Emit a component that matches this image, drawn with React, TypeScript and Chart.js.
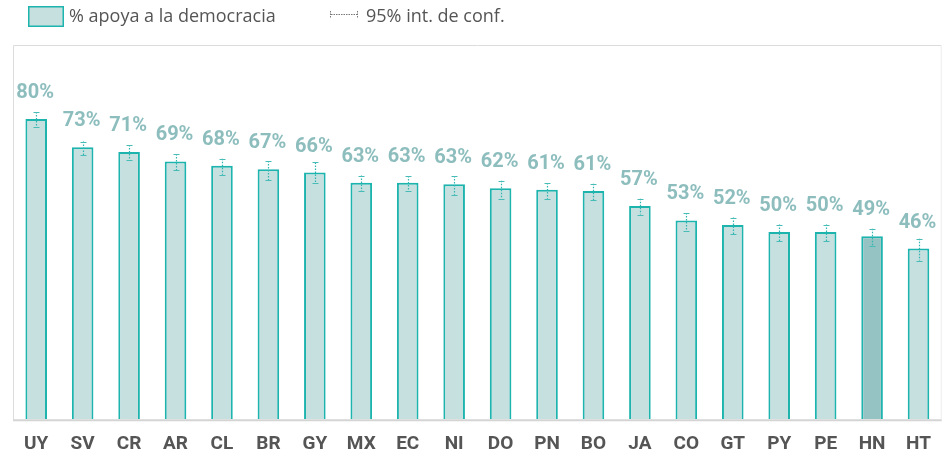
import React, { useEffect, useRef } from "react";
import { Chart, registerables } from "chart.js";

Chart.register(...registerables);

const categories = ["UY", "SV", "CR", "AR", "CL", "BR", "GY", "MX", "EC", "NI", "DO", "PN", "BO", "JA", "CO", "GT", "PY", "PE", "HN", "HT"];
const support = [80.2, 72.7, 71.4, 68.9, 67.7, 66.8, 65.9, 63.2, 63.2, 62.8, 61.7, 61.3, 61.0, 57.0, 53.1, 51.9, 50.0, 50.0, 48.9, 45.6];
const labels = ["80%", "73%", "71%", "69%", "68%", "67%", "66%", "63%", "63%", "63%", "62%", "61%", "61%", "57%", "53%", "52%", "50%", "50%", "49%", "46%"];
const ciLow = [78.0, 70.5, 69.3, 66.5, 65.3, 63.9, 63.2, 60.9, 60.9, 60.0, 58.9, 58.9, 58.6, 54.7, 50.4, 49.5, 47.5, 47.5, 46.2, 42.4];
const ciHigh = [82.1, 74.2, 73.3, 70.9, 69.6, 69.0, 68.6, 65.1, 65.0, 65.0, 63.7, 63.1, 62.9, 58.9, 55.1, 53.9, 52.0, 52.0, 50.9, 48.2];
const highlight = "HN";
const legendMain = "% apoya a la democracia";
const legendCI = "95% int. de conf.";

const FILL = "#c6dfdf";
const FILL_HI = "#95c2c2";
const BORDER = "#1db4ae";
const LABEL = "#8dbdbd";

const framePlugin = {
  id: "frame",
  beforeDatasetsDraw(chart: any) {
    const { ctx, chartArea: a } = chart;
    ctx.save();
    ctx.strokeStyle = "#dcdcdc";
    ctx.lineWidth = 1;
    ctx.beginPath();
    ctx.moveTo(a.left + 0.5, a.bottom);
    ctx.lineTo(a.left + 0.5, a.top + 0.5);
    ctx.lineTo(a.right - 0.5, a.top + 0.5);
    ctx.stroke();
    ctx.strokeStyle = "#eeeeee";
    ctx.beginPath();
    ctx.moveTo(a.right - 0.5, a.top + 0.5);
    ctx.lineTo(a.right - 0.5, a.bottom);
    ctx.stroke();
    ctx.restore();
  },
  afterDatasetsDraw(chart: any) {
    const { ctx, chartArea: a } = chart;
    ctx.save();
    ctx.strokeStyle = "#d4d4d4";
    ctx.lineWidth = 2;
    ctx.beginPath();
    ctx.moveTo(a.left, a.bottom + 1);
    ctx.lineTo(a.right, a.bottom + 1);
    ctx.stroke();
    ctx.restore();
  },
};

const errorPlugin = {
  id: "errorBars",
  afterDatasetsDraw(chart: any) {
    const { ctx } = chart;
    const meta = chart.getDatasetMeta(0);
    const y = chart.scales.y;
    ctx.save();
    meta.data.forEach((bar: any, i: number) => {
      const x = Math.round(bar.x) + 0.5;
      const yt = y.getPixelForValue(ciHigh[i]);
      const yb = y.getPixelForValue(ciLow[i]);
      ctx.strokeStyle = "#2fb5b0";
      ctx.lineWidth = 1.2;
      ctx.setLineDash([1.5, 1.5]);
      ctx.beginPath();
      ctx.moveTo(x, yt);
      ctx.lineTo(x, yb);
      ctx.stroke();
      ctx.setLineDash([]);
      ctx.strokeStyle = "#47bcb7";
      ctx.lineWidth = 1;
      ctx.beginPath();
      ctx.moveTo(x - 3, Math.round(yt) + 0.5);
      ctx.lineTo(x + 3, Math.round(yt) + 0.5);
      ctx.moveTo(x - 3, Math.round(yb) + 0.5);
      ctx.lineTo(x + 3, Math.round(yb) + 0.5);
      ctx.stroke();
    });
    ctx.restore();
  },
};

const labelPlugin = {
  id: "valueLabels",
  afterDatasetsDraw(chart: any) {
    const { ctx } = chart;
    const meta = chart.getDatasetMeta(0);
    ctx.save();
    ctx.font = "bold 20px Roboto";
    ctx.fillStyle = LABEL;
    ctx.textAlign = "center";
    ctx.textBaseline = "middle";
    meta.data.forEach((bar: any, i: number) => {
      ctx.fillText(labels[i], bar.x - 1, bar.y - 26);
    });
    ctx.restore();
  },
};

const legendPlugin = {
  id: "customLegend",
  afterDraw(chart: any) {
    const { ctx } = chart;
    ctx.save();
    ctx.fillStyle = FILL;
    ctx.fillRect(28, 6, 36, 21);
    ctx.strokeStyle = BORDER;
    ctx.lineWidth = 1.5;
    ctx.strokeRect(28.75, 6.75, 34.5, 19.5);
    ctx.font = "18px 'Open Sans'";
    ctx.fillStyle = "#555555";
    ctx.textAlign = "left";
    ctx.textBaseline = "middle";
    ctx.fillText(legendMain, 69, 17);
    // CI symbol
    ctx.strokeStyle = "#777777";
    ctx.lineWidth = 1;
    ctx.setLineDash([1.5, 1]);
    ctx.beginPath();
    ctx.moveTo(331, 14.5);
    ctx.lineTo(357, 14.5);
    ctx.moveTo(330.5, 11);
    ctx.lineTo(330.5, 18);
    ctx.moveTo(357.5, 11);
    ctx.lineTo(357.5, 18);
    ctx.stroke();
    ctx.setLineDash([]);
    ctx.fillText(legendCI, 366, 17);
    ctx.restore();
  },
};

export default function App() {
  const ref = useRef<HTMLCanvasElement | null>(null);
  useEffect(() => {
    document.body.style.margin = "0";
    if (!ref.current) return;
    const chart = new Chart(ref.current, {
      type: "bar",
      data: {
        labels: categories,
        datasets: [
          {
            label: legendMain,
            data: support,
            backgroundColor: categories.map((c) => (c === highlight ? FILL_HI : FILL)),
            borderColor: BORDER,
            borderWidth: 2,
            borderSkipped: "bottom",
            barPercentage: 0.465,
            categoryPercentage: 1,
          },
        ],
      },
      options: {
        animation: false,
        responsive: true,
        maintainAspectRatio: false,
        layout: { padding: { left: 13, right: 1, top: 45, bottom: -13 } },
        plugins: {
          legend: { display: false },
          tooltip: { enabled: false },
        },
        scales: {
          y: { display: false, min: 0, max: 100 },
          x: {
            grid: { display: false, drawTicks: false },
            border: { display: false },
            ticks: {
              color: "#555555",
              font: { family: "Roboto", size: 19, weight: "bold" },
              padding: 14,
              maxRotation: 0,
              autoSkip: false,
            },
          },
        },
      },
      plugins: [framePlugin, errorPlugin, labelPlugin, legendPlugin],
    });
    return () => chart.destroy();
  }, []);
  return (
    <div style={{ width: 945, height: 457, position: "relative" }}>
      <canvas ref={ref} />
    </div>
  );
}
